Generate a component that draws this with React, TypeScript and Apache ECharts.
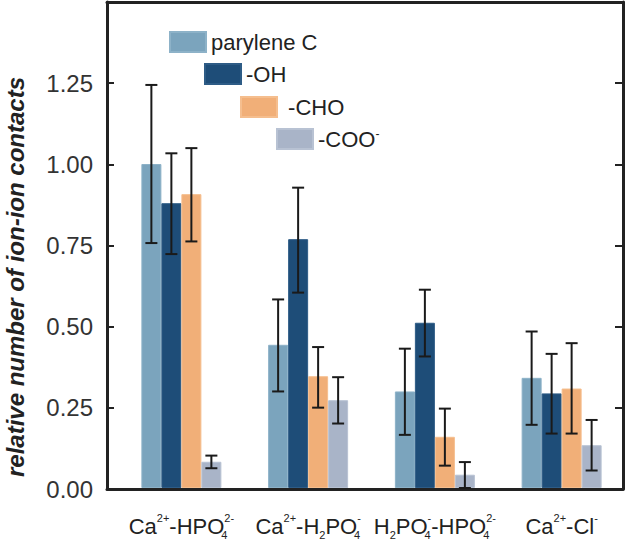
import React, { useEffect, useRef } from "react";
import * as echarts from "echarts";

const categories = [
  "Ca{sup|2+}-HPO{st|4}{sup|2-}",
  "Ca{sup|2+}-H{sub|2}PO{st|4}{sup|-}",
  "H{sub|2}PO{st|4}{sup|-}-HPO{st|4}{sup|2-}",
  "Ca{sup|2+}-Cl{sup|-}",
];
const seriesNames = ["parylene C", "-OH", "-CHO", "-COO"];
const paryleneC = [1.0, 0.442, 0.298, 0.34];
const ohValues = [0.879, 0.768, 0.51, 0.292];
const choValues = [0.907, 0.345, 0.158, 0.307];
const cooValues = [0.081, 0.271, 0.041, 0.132];
const paryleneLow = [0.756, 0.298, 0.164, 0.195];
const paryleneHigh = [1.244, 0.582, 0.43, 0.483];
const ohLow = [0.722, 0.603, 0.406, 0.168];
const ohHigh = [1.033, 0.927, 0.612, 0.414];
const choLow = [0.761, 0.248, 0.069, 0.168];
const choHigh = [1.049, 0.435, 0.245, 0.447];
const cooLow = [0.061, 0.199, 0.0, 0.054];
const cooHigh = [0.1, 0.342, 0.08, 0.21];

const COLORS = ["#7BA4BD", "#1E4D78", "#F1AF78", "#A9B4C8"];
const BORDERS = ["#8DB2C8", "#2E5C86", "#F5BE8E", "#B8C2D3"];
const FONT = "'Liberation Sans', Arial, Helvetica, sans-serif";
const BAR_W = 20;
const INK = "#222222";

export default function App() {
  const ref = useRef<HTMLDivElement>(null);
  useEffect(() => {
    document.body.style.margin = "0";
    if (!ref.current) return;
    const chart = echarts.init(ref.current, null, { renderer: "svg" });
    const values = [paryleneC, ohValues, choValues, cooValues];
    const lows = [paryleneLow, ohLow, choLow, cooLow];
    const highs = [paryleneHigh, ohHigh, choHigh, cooHigh];

    const errData: number[][] = [];
    for (let s = 0; s < 4; s++) {
      for (let c = 0; c < categories.length; c++) {
        errData.push([c, lows[s][c], highs[s][c], s]);
      }
    }

    const legendPos = [
      { left: 169, top: 31 },
      { left: 204, top: 63 },
      { left: 240, top: 96 },
      { left: 276, top: 128 },
    ];

    const legends = seriesNames.map((n, i) => ({
      data: [n],
      left: legendPos[i].left,
      top: legendPos[i].top,
      padding: 0,
      itemWidth: 36,
      itemHeight: 20,
      icon: "rect",
      selectedMode: false,
      formatter: i === 3 ? "-COO{sup|-}" : i === 2 ? " -CHO" : "{name}",
      textStyle: {
        fontFamily: FONT,
        fontSize: 22,
        color: INK,
        lineHeight: 22,
        rich: {
          sup: { fontSize: 12, verticalAlign: "top", lineHeight: 12, color: INK, fontFamily: FONT },
        },
      },
    }));

    const frameLine = { show: true, onZero: false, lineStyle: { color: INK, width: 3 } };
    const small = { fontSize: 11, lineHeight: 11, color: INK, fontFamily: FONT };

    const option: any = {
      animation: false,
      backgroundColor: "#ffffff",
      legend: legends,
      grid: [
        { left: 118, top: 2, width: 513, height: 487 },
        { left: 107, top: 2, width: 516, height: 487 },
      ],
      xAxis: [
        {
          type: "category",
          gridIndex: 0,
          data: categories,
          axisLine: { show: false },
          axisTick: { show: false },
          axisLabel: {
            interval: 0,
            margin: 24,
            fontFamily: FONT,
            fontSize: 22,
            color: INK,
            lineHeight: 28,
            rich: {
              sup: { ...small, verticalAlign: "top" },
              sub: { ...small, verticalAlign: "bottom" },
              st: { ...small, verticalAlign: "bottom", width: 0, align: "left" },
            },
          },
        },
        {
          type: "value",
          gridIndex: 1,
          min: 0,
          max: 1,
          position: "bottom",
          axisLine: frameLine,
          axisTick: { show: false },
          axisLabel: { show: false },
          splitLine: { show: false },
        },
        {
          type: "value",
          gridIndex: 1,
          min: 0,
          max: 1,
          position: "top",
          axisLine: frameLine,
          axisTick: { show: false },
          axisLabel: { show: false },
          splitLine: { show: false },
        },
      ],
      yAxis: [
        {
          type: "value",
          gridIndex: 0,
          min: 0,
          max: 1.5,
          show: false,
        },
        {
          type: "value",
          gridIndex: 1,
          min: 0,
          max: 1.5,
          interval: 0.25,
          position: "left",
          axisLine: frameLine,
          axisTick: { show: true, inside: true, length: 7, lineStyle: { color: INK, width: 2 } },
          axisLabel: {
            margin: 14,
            fontFamily: FONT,
            fontSize: 24,
            color: "#333333",
            formatter: (v: number) => (v >= 1.5 ? "" : v.toFixed(2)),
          },
          splitLine: { show: false },
        },
        {
          type: "value",
          gridIndex: 1,
          min: 0,
          max: 1.5,
          interval: 0.25,
          position: "right",
          axisLine: frameLine,
          axisTick: { show: true, inside: true, length: 8, lineStyle: { color: INK, width: 2 } },
          axisLabel: { show: false },
          splitLine: { show: false },
        },
      ],
      graphic: [
        {
          type: "text",
          x: 15,
          y: 277,
          rotation: Math.PI / 2,
          style: {
            text: "relative number of ion-ion contacts",
            fontFamily: FONT,
            fontSize: 24,
            fontWeight: "bold",
            fontStyle: "italic",
            fill: INK,
            align: "center",
            verticalAlign: "middle",
          },
        },
      ],
      series: [
        ...seriesNames.map((n, i) => ({
          name: n,
          type: "bar",
          xAxisIndex: 0,
          yAxisIndex: 0,
          barWidth: BAR_W,
          barGap: "0%",
          data: values[i],
          itemStyle: { color: COLORS[i], borderColor: BORDERS[i], borderWidth: 1 },
          z: 2,
        })),
        {
          type: "custom",
          xAxisIndex: 0,
          yAxisIndex: 0,
          data: errData,
          encode: { x: 0, y: [1, 2] },
          z: 5,
          silent: true,
          renderItem: (params: any, api: any) => {
            const c = api.value(0);
            const lo = api.value(1);
            const hi = api.value(2);
            const s = api.value(3);
            const pLo = api.coord([c, lo]);
            const pHi = api.coord([c, hi]);
            const x = pLo[0] + (s - 1.5) * BAR_W;
            const cap = 6;
            const st = { stroke: "#1a1a1a", lineWidth: 2 };
            return {
              type: "group",
              children: [
                { type: "line", shape: { x1: x, y1: pLo[1], x2: x, y2: pHi[1] }, style: st },
                { type: "line", shape: { x1: x - cap, y1: pLo[1], x2: x + cap, y2: pLo[1] }, style: st },
                { type: "line", shape: { x1: x - cap, y1: pHi[1], x2: x + cap, y2: pHi[1] }, style: st },
              ],
            };
          },
        },
      ],
    };
    chart.setOption(option);
    return () => chart.dispose();
  }, []);
  return <div ref={ref} style={{ width: 625, height: 540 }} />;
}
